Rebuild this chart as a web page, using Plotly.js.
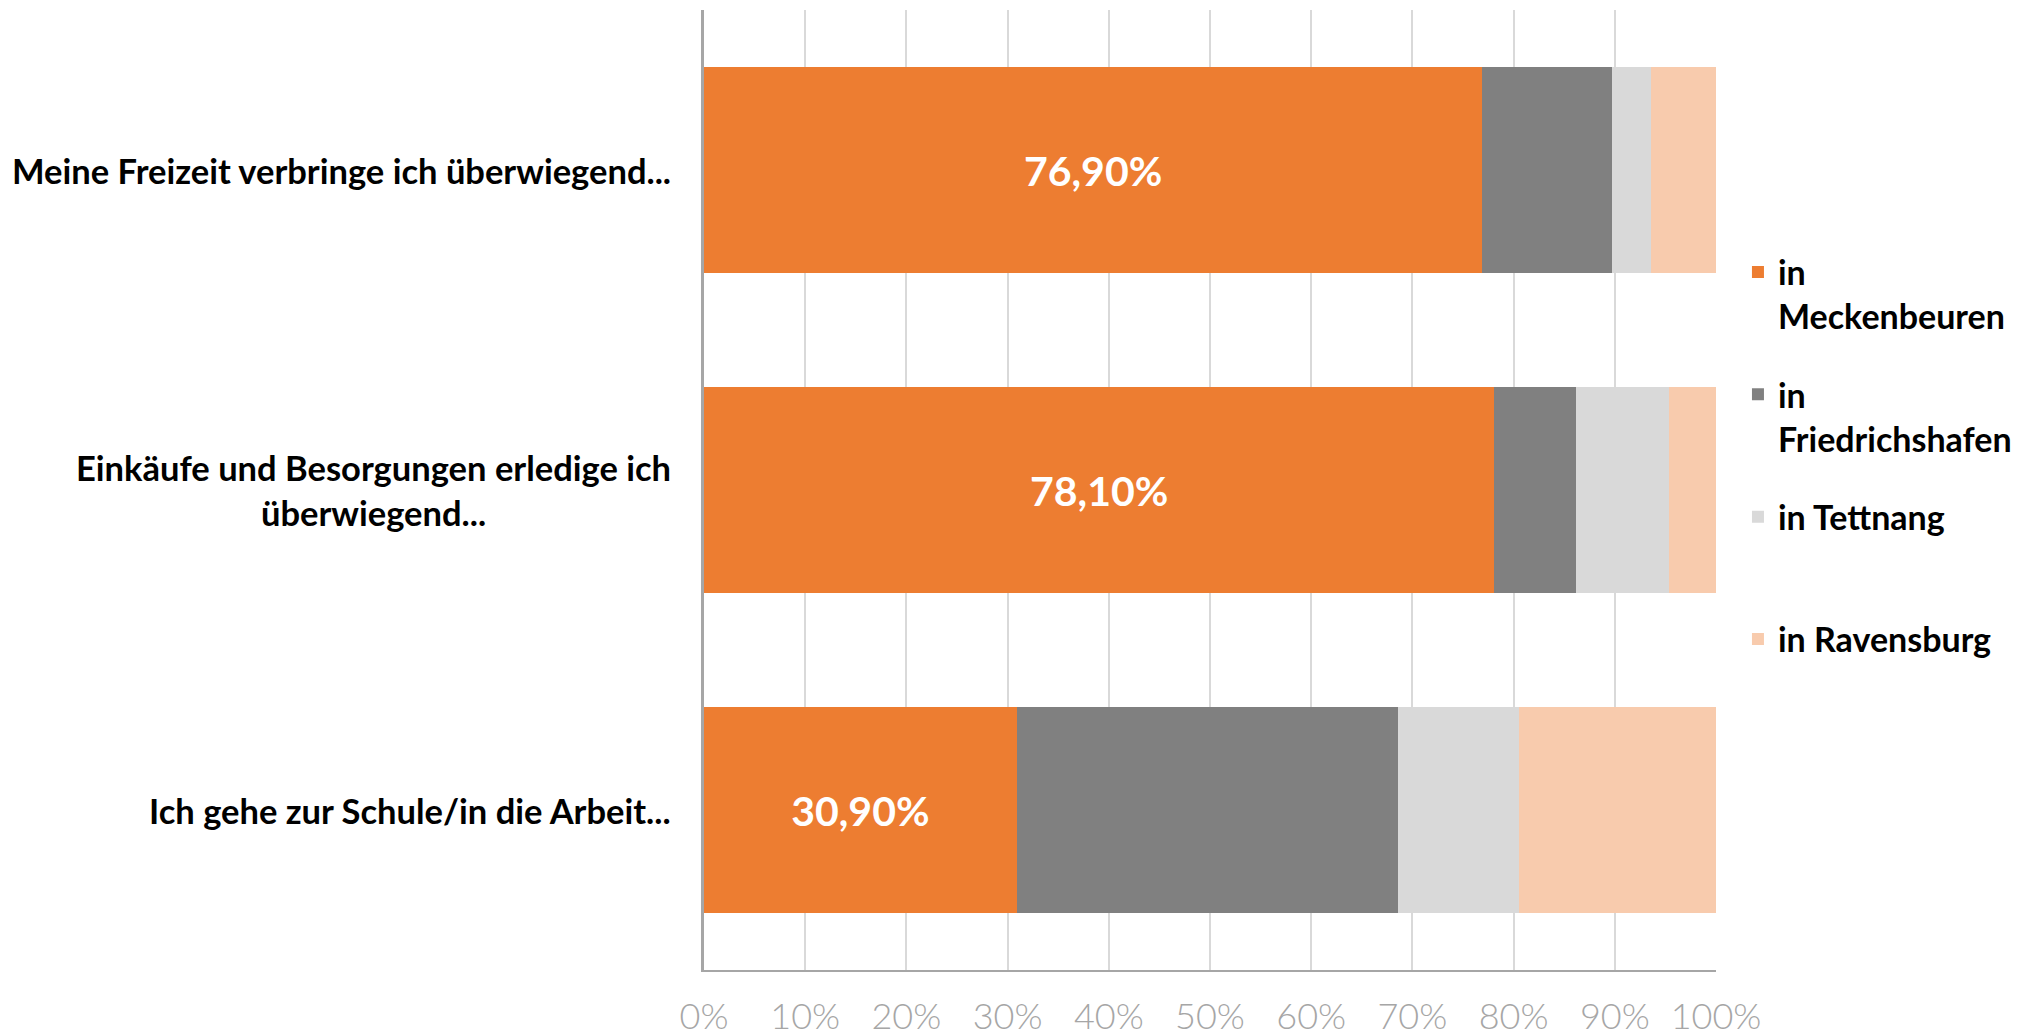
<!DOCTYPE html>
<html>
<head>
<meta charset="utf-8">
<script src="https://cdn.plot.ly/plotly-3.0.1.min.js"></script>
<style>
html,body{margin:0;padding:0;background:#fff;}
#chart{width:2022px;height:1035px;}
</style>
</head>
<body>
<div id="chart"></div>
<script>
// Categories (top to bottom)
const categories = [
  "Meine Freizeit verbringe ich überwiegend...",
  "Einkäufe und Besorgungen erledige ich<br>überwiegend...",
  "Ich gehe zur Schule/in die Arbeit..."
];
// Series values (percent)
const meckenbeuren    = [76.9, 78.1, 30.9];
const friedrichshafen = [12.8, 8.1, 37.7];
const tettnang        = [3.9, 9.2, 11.9];
const ravensburg      = [6.4, 4.6, 19.5];
// Legend labels
const seriesNames = ["in<br>Meckenbeuren", "in<br>Friedrichshafen", "in Tettnang<br>\u00a0", "in Ravensburg<br>\u00a0"];
const seriesColors = ["#ED7D31", "#808080", "#D9D9D9", "#F8CBAD"];
// X tick values/labels
const tickVals = [0,10,20,30,40,50,60,70,80,90,100];
const tickText = tickVals.map(v => v + "%");

const allSeries = [meckenbeuren, friedrichshafen, tettnang, ravensburg];
const labelFmt = v => v.toFixed(2).replace(".", ",") + "%";

const traces = allSeries.map((vals, i) => ({
  type: "bar",
  orientation: "h",
  y: categories,
  x: vals,
  name: seriesNames[i],
  legendgroup: "g" + i,
  width: 0.643,
  marker: {color: seriesColors[i], line: {width: 0}},
  text: i === 0 ? vals.map(labelFmt) : undefined,
  textposition: i === 0 ? "inside" : "none",
  insidetextanchor: "middle",
  textfont: {family: "Lato, sans-serif", size: 41, color: "#ffffff", weight: 700},
  hoverinfo: "x+name"
}));

const annotations = categories.map(c => ({
  xref: "paper", yref: "y",
  x: -0.031, y: c,
  xanchor: "right", yanchor: "middle",
  align: "center",
  text: c,
  showarrow: false,
  font: {family: "Lato, sans-serif", size: 34.5, color: "#000000", weight: 700}
}));

const layout = {
  width: 2022, height: 1035,
  margin: {l: 704, r: 306, t: 10, b: 65, pad: 0, autoexpand: false},
  paper_bgcolor: "#ffffff",
  plot_bgcolor: "#ffffff",
  barmode: "stack",
  showlegend: true,
  legend: {
    x: 1.0217, xanchor: "left",
    y: 0.757, yanchor: "top",
    valign: "top",
    traceorder: "grouped",
    tracegroupgap: 31,
    font: {family: "Lato, sans-serif", size: 34, color: "#000000", weight: 700},
    bgcolor: "rgba(0,0,0,0)"
  },
  xaxis: {
    range: [0, 100],
    tickvals: tickVals,
    ticktext: tickText,
    showgrid: true,
    gridcolor: "#D9D9D9",
    gridwidth: 2,
    zeroline: false,
    showline: true,
    linecolor: "#A6A6A6",
    linewidth: 2,
    ticks: "",
    ticklabelstandoff: 14,
    tickfont: {family: "Lato, sans-serif", size: 36, color: "#A6A6A6", weight: 300},
    automargin: false,
    fixedrange: true
  },
  yaxis: {
    type: "category",
    categoryorder: "array",
    categoryarray: categories,
    range: [2.5, -0.5],
    showticklabels: false,
    showgrid: false,
    zeroline: false,
    showline: true,
    linecolor: "#A6A6A6",
    linewidth: 3,
    ticks: "",
    automargin: false,
    fixedrange: true
  },
  annotations: annotations,
  font: {family: "Lato, sans-serif"}
};

Plotly.newPlot("chart", traces, layout, {displayModeBar: false, staticPlot: true});
</script>
</body>
</html>
